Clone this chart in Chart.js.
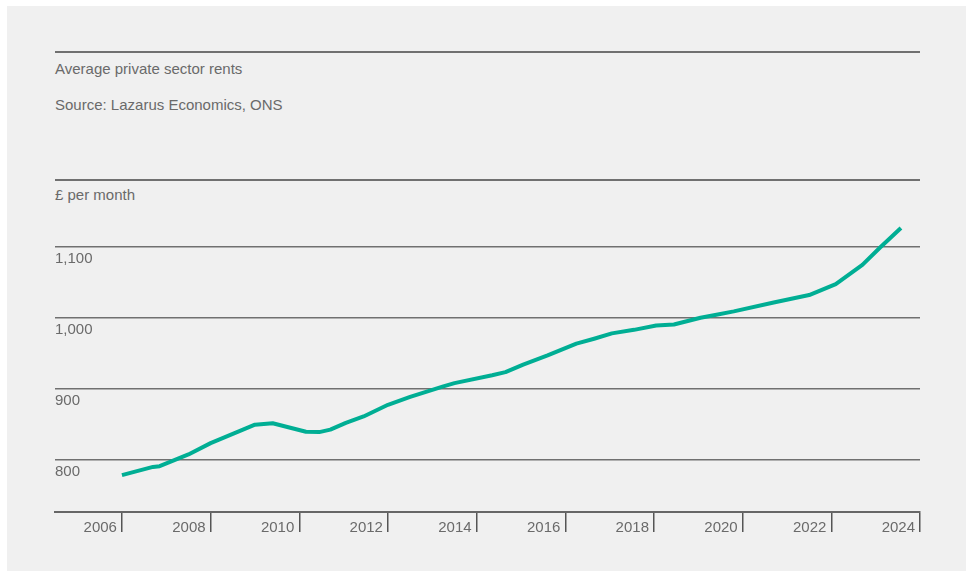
<!DOCTYPE html>
<html>
<head>
<meta charset="utf-8">
<script src="https://cdn.jsdelivr.net/npm/chart.js@4.4.1/dist/chart.umd.min.js"></script>
<style>
  html, body { margin: 0; padding: 0; background: #ffffff; }
  body { width: 973px; height: 577px; position: relative; overflow: hidden; font-family: "Liberation Sans", Arial, sans-serif; }
  #panel { position: absolute; left: 7px; top: 6px; width: 959px; height: 565px; background: #f0f0f0; }
  .rule { position: absolute; left: 55px; width: 865px; height: 0; border-top: 2px solid #707070; }
  .txt { position: absolute; left: 55px; font-size: 15px; line-height: 18px; color: #6a6a6a; white-space: nowrap; }
  #wrap { position: absolute; left: 0; top: 0; width: 973px; height: 577px; }
</style>
</head>
<body>
<div id="panel"></div>
<div class="rule" style="top:51px"></div>
<div class="txt" style="top:60px">Average private sector rents</div>
<div class="txt" style="top:96px">Source: Lazarus Economics, ONS</div>
<div class="rule" style="top:179px"></div>
<div class="txt" style="top:186px">£ per month</div>
<div id="wrap"><canvas id="rentChart" width="973" height="577"></canvas></div>
<script>
// values (year as decimal, £ per month)
const years = [2006.0, 2006.7, 2006.85, 2007.5, 2008.0, 2008.5, 2009.0, 2009.4, 2010.15, 2010.45,
  2010.7, 2011.05, 2011.45, 2012.0, 2012.5, 2013.25, 2013.5, 2014.35, 2014.65, 2015.05,
  2015.6, 2016.25, 2016.65, 2017.05, 2017.55, 2018.05, 2018.45, 2019.05, 2019.35, 2019.8,
  2020.7, 2021.5, 2022.1, 2022.7, 2023.1, 2023.57];
const rents = [779, 790.5, 791.5, 808, 824, 837, 850, 852, 840, 839.5,
  843, 852.5, 861.5, 878, 889, 904, 908.5, 919.5, 924, 934.5,
  947.5, 964, 971, 978.5, 983.5, 989.5, 991, 1000.5, 1004, 1009.5,
  1022, 1032.5, 1048, 1075, 1099.5, 1127];
const yearTicks = [2006, 2008, 2010, 2012, 2014, 2016, 2018, 2020, 2022, 2024];
const rentTicks = [800, 900, 1000, 1100];

const textColor = '#6a6a6a';
const fontSpec = { family: '"Liberation Sans", Arial, sans-serif', size: 15 };

const ctx = document.getElementById('rentChart');
new Chart(ctx, {
  type: 'line',
  data: {
    datasets: [{
      label: 'Average private sector rents',
      data: years.map((y, i) => ({ x: y, y: rents[i] })),
      borderColor: '#00ae94',
      borderWidth: 4,
      pointRadius: 0,
      tension: 0,
      borderJoinStyle: 'round'
    }]
  },
  options: {
    responsive: false,
    animation: false,
    layout: { padding: { left: 55, right: 53, top: 180, bottom: 35 } },
    plugins: { legend: { display: false }, tooltip: { enabled: false } },
    scales: {
      x: {
        type: 'linear',
        min: 2004.49,
        max: 2024,
        afterBuildTicks: (scale) => { scale.ticks = yearTicks.map(v => ({ value: v })); },
        afterFit: (scale) => { scale.height = 30; },
        grid: { drawOnChartArea: false, drawTicks: true, tickLength: 20, color: '#555', lineWidth: 1.5 },
        border: { display: true, color: '#666', width: 2 },
        ticks: {
          align: 'end',
          labelOffset: -5,
          padding: -13,
          maxRotation: 0,
          color: textColor,
          font: fontSpec,
          callback: (v) => String(v)
        }
      },
      y: {
        min: 727,
        max: 1194.5,
        afterBuildTicks: (scale) => { scale.ticks = rentTicks.map(v => ({ value: v })); },
        afterFit: (scale) => { scale.width = 0; },
        grid: { drawTicks: false, color: '#707070', lineWidth: 1.5 },
        border: { display: false },
        ticks: {
          mirror: true,
          padding: 0,
          labelOffset: 11.5,
          color: textColor,
          font: fontSpec,
          callback: (v) => v.toLocaleString('en-GB')
        }
      }
    }
  }
});
</script>
</body>
</html>
